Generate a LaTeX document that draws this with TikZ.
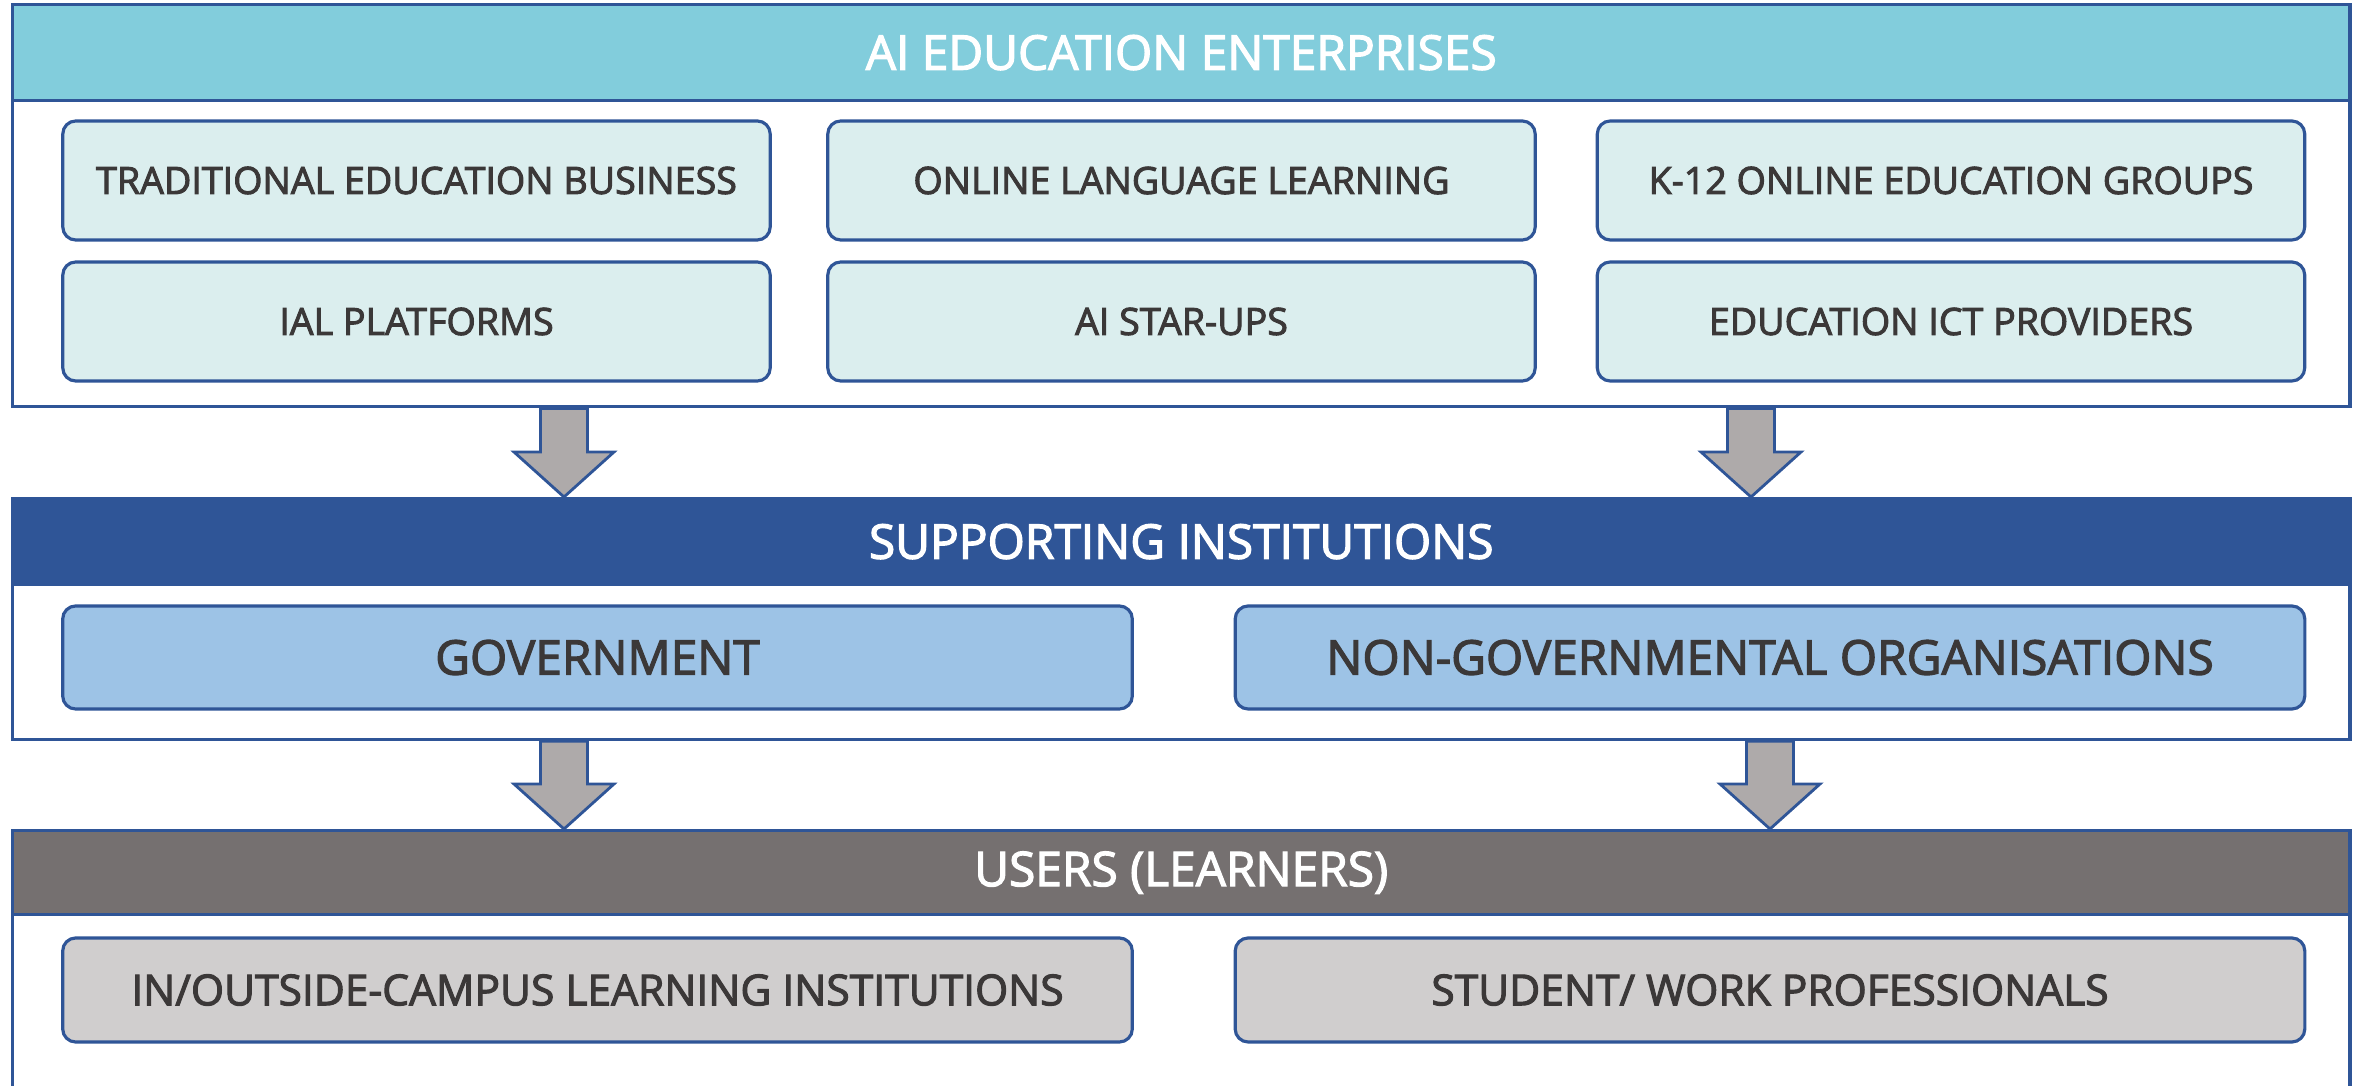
\documentclass[tikz,border=0pt]{standalone}
\usepackage{fontspec}
\setmainfont[FakeBold=2.5]{Open Sans}
\usetikzlibrary{calc}
\definecolor{frameblue}{RGB}{47,85,151}
\definecolor{bandcyan}{RGB}{130,205,220}
\definecolor{itemcyan}{RGB}{219,238,238}
\definecolor{itemblue}{RGB}{157,195,230}
\definecolor{bandgray}{RGB}{117,112,112}
\definecolor{itemgray}{RGB}{208,206,206}
\definecolor{arrowgray}{RGB}{174,170,170}
\definecolor{textdark}{RGB}{59,56,56}

\tikzset{
  frame/.style={draw=frameblue, line width=0.9pt, fill=white, inner sep=0pt,
    anchor=north west, minimum width=23.36cm},
  band/.style={draw=frameblue, line width=0.9pt, inner sep=0pt, anchor=north west,
    minimum width=23.36cm, text=white, font=\fontsize{13.6}{16}\selectfont},
  item/.style={draw=frameblue, line width=0.9pt, rounded corners=0.13cm, inner sep=0pt,
    text=textdark},
  entitem/.style={item, fill=itemcyan, minimum width=7.07cm, minimum height=1.19cm,
    font=\fontsize{10.7}{13}\selectfont},
  supitem/.style={item, fill=itemblue, minimum width=10.69cm, minimum height=1.03cm,
    font=\fontsize{13.6}{16}\selectfont},
  usritem/.style={item, fill=itemgray, minimum width=10.69cm, minimum height=1.04cm,
    font=\fontsize{12.1}{14}\selectfont},
  blkarrow/.style={draw=frameblue, line width=0.8pt, fill=arrowgray, line join=miter}
}

% down block arrow from #1 to #2
\newcommand{\blockdown}[2]{%
  \draw[blkarrow] let \p1=(#1), \p2=(#2) in
    (\x1-0.235cm,\y1) -- (\x1-0.235cm,\y2+0.45cm) -- (\x1-0.5cm,\y2+0.45cm)
    -- (\x1,\y2) -- (\x1+0.5cm,\y2+0.45cm) -- (\x1+0.235cm,\y2+0.45cm)
    -- (\x1+0.235cm,\y1) -- cycle;}

\begin{document}
\begin{tikzpicture}[x=0.01cm, y=-0.01cm]
  \useasboundingbox (0,0) rectangle (2357,1086);
  \clip (0,0) rectangle (2357,1086);

  % enterprises
  \node[frame, minimum height=4.02cm] (ent) at (11,3) {};
  \node[band, fill=bandcyan, minimum height=0.96cm] (enthead) at (ent.north west) {AI EDUCATION ENTERPRISES};
  \node[entitem] (trad) at (416.5,180.5) {TRADITIONAL EDUCATION BUSINESS};
  \node[entitem] (lang) at (1181.5,180.5) {ONLINE LANGUAGE LEARNING};
  \node[entitem] (k12) at (1951,180.5) {K-12 ONLINE EDUCATION GROUPS};
  \node[entitem] (ial) at (416.5,321.5) {IAL PLATFORMS};
  \node[entitem] (start) at (1181.5,321.5) {AI STAR-UPS};
  \node[entitem] (ict) at (1951,321.5) {EDUCATION ICT PROVIDERS};

  % supporting institutions
  \node[frame, minimum height=2.41cm] (sup) at (11,497) {};
  \node[band, fill=frameblue, minimum height=0.86cm] (suphead) at (sup.north west) {SUPPORTING INSTITUTIONS};
  \node[supitem] (gov) at (597.5,657.5) {GOVERNMENT};
  \node[supitem] (ngo) at (1770,657.5) {NON-GOVERNMENTAL ORGANISATIONS};

  % users
  \node[frame, minimum height=2.81cm] (usr) at (11,829) {};
  \node[band, fill=bandgray, minimum height=0.84cm] (usrhead) at (usr.north west) {USERS (LEARNERS)};
  \node[usritem] (campus) at (597.5,990) {IN/OUTSIDE-CAMPUS LEARNING INSTITUTIONS};
  \node[usritem] (prof) at (1770,990) {STUDENT/ WORK PROFESSIONALS};

  % arrows
  \coordinate (a1) at (564,0);
  \coordinate (a2) at (1751,0);
  \coordinate (a3) at (564,0);
  \coordinate (a4) at (1770,0);
  \blockdown{ent.south -| a1}{sup.north -| a1}
  \blockdown{ent.south -| a2}{sup.north -| a2}
  \blockdown{sup.south -| a3}{usr.north -| a3}
  \blockdown{sup.south -| a4}{usr.north -| a4}
\end{tikzpicture}
\end{document}
